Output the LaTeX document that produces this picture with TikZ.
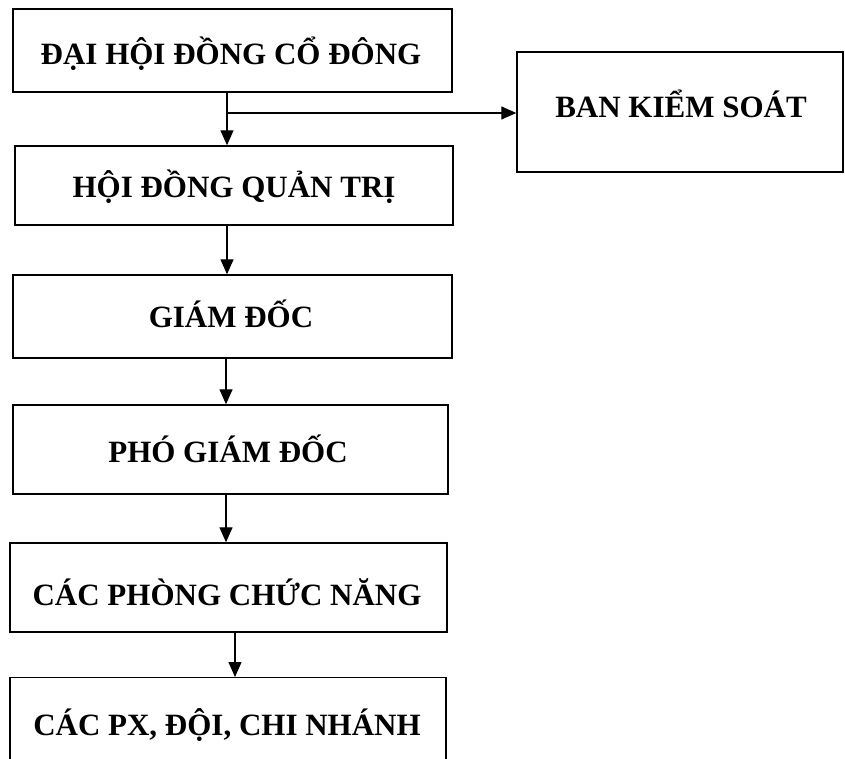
\documentclass[tikz,border=0pt]{standalone}
\usepackage{fontspec}
\setmainfont{Liberation Serif}
\usetikzlibrary{arrows.meta}
\begin{document}
\begin{tikzpicture}[x=1pt,y=1pt,
  box/.style={draw, line width=1.4pt, rectangle, inner sep=0pt},
  lbl/.style={anchor=base, inner sep=0pt, font=\fontsize{31}{35}\selectfont\bfseries},
  arr/.style={line width=1.3pt, -{Triangle[width=13pt,length=15pt]}}]
\useasboundingbox (0,0) rectangle (845,-759);
\node[box, minimum width=439, minimum height=83] (b1) at (232.5,-50.5) {};
\node[box, minimum width=438, minimum height=79] (b2) at (234,-185.5) {};
\node[box, minimum width=439, minimum height=83] (b3) at (232.5,-316.5) {};
\node[box, minimum width=435, minimum height=89] (b4) at (230.5,-449.5) {};
\node[box, minimum width=437, minimum height=89] (b5) at (228.5,-587.5) {};
\node[box, minimum width=436, minimum height=100, anchor=north] (b6) at (228,-677) {};
\node[box, minimum width=326, minimum height=120] (bks) at (680,-112) {};
\node[lbl] (t1) at (231,-65) {ĐẠI HỘI ĐỒNG CỔ ĐÔNG};
\node[lbl] (t2) at (234,-198) {HỘI ĐỒNG QUẢN TRỊ};
\node[lbl] (t3) at (231,-327) {GIÁM ĐỐC};
\node[lbl] (t4) at (228,-462) {PHÓ GIÁM ĐỐC};
\node[lbl] (t5) at (227,-605) {CÁC PHÒNG CHỨC NĂNG};
\node[lbl] (t6) at (227,-735) {CÁC PX, ĐỘI, CHI NHÁNH};
\node[lbl] (t7) at (681,-118) {BAN KIỂM SOÁT};
\coordinate (j) at (227,-113);
\draw[arr] (j|-b1.south) -- (j|-b2.north);
\draw[arr] (j) -- (bks.west|-j);
\draw[arr] (227,0|-b2.south) -- (227,0|-b3.north);
\draw[arr] (226,0|-b3.south) -- (226,0|-b4.north);
\draw[arr] (226,0|-b4.south) -- (226,0|-b5.north);
\draw[arr] (235,0|-b5.south) -- (235,0|-b6.north);
\end{tikzpicture}
\end{document}
